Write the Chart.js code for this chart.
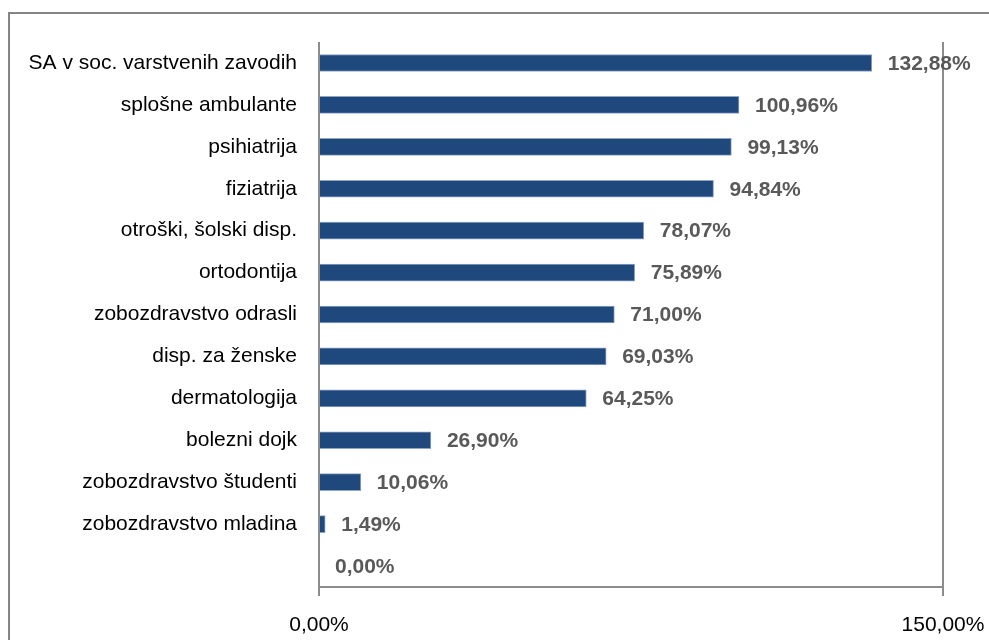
<!DOCTYPE html>
<html lang="sl">
<head>
    <meta charset="UTF-8">
    <title>Realizacija programa</title>
    <script src="https://cdn.jsdelivr.net/npm/chart.js"></script>
    <style>
        body { margin: 0; background: white; }
        #wrap { width: 989px; height: 640px; }
    </style>
</head>
<body>
    <div id="wrap"><canvas id="chart" width="989" height="640"></canvas></div>

    <script>
        // data
        let categories = [
            "SA v soc. varstvenih zavodih",
            "splošne ambulante",
            "psihiatrija",
            "fiziatrija",
            "otroški, šolski disp.",
            "ortodontija",
            "zobozdravstvo odrasli",
            "disp. za ženske",
            "dermatologija",
            "bolezni dojk",
            "zobozdravstvo študenti",
            "zobozdravstvo mladina",
            ""
        ];
        let values = [132.88, 100.96, 99.13, 94.84, 78.07, 75.89, 71.00, 69.03, 64.25, 26.90, 10.06, 1.49, 0.00];
        let axisMin = 0;
        let axisMax = 150;

        function pct(v) {
            return v.toFixed(2).replace('.', ',') + '%';
        }

        // gray frame round the chart
        let framePlugin = {
            id: 'frame',
            beforeDraw(chart) {
                let c = chart.ctx;
                c.save();
                c.strokeStyle = '#858585';
                c.lineWidth = 2;
                c.strokeRect(9, 13, 1100, 700);
                c.restore();
            }
        };

        // value labels next to bars
        let valueLabels = {
            id: 'valueLabels',
            afterDatasetsDraw(chart) {
                let c = chart.ctx;
                let meta = chart.getDatasetMeta(0);
                c.save();
                c.font = 'bold 21px "Liberation Sans", Arial, sans-serif';
                c.fillStyle = '#595959';
                c.textAlign = 'left';
                c.textBaseline = 'middle';
                meta.data.forEach((bar, i) => {
                    c.fillText(pct(values[i]), bar.x + 16, bar.y + 1);
                });
                c.restore();
            }
        };

        let ctx = document.getElementById("chart").getContext("2d");
        let chart = new Chart(ctx, {
            type: "bar",
            data: {
                labels: categories,
                datasets: [{
                    data: values,
                    backgroundColor: "#1f497d",
                    borderColor: "#8fa3c4",
                    borderWidth: 1,
                    barThickness: 17
                }]
            },
            options: {
                indexAxis: 'y',
                responsive: false,
                animation: false,
                layout: { padding: { top: 42, right: 46, left: 0, bottom: 0 } },
                plugins: {
                    legend: { display: false },
                    tooltip: { enabled: false }
                },
                scales: {
                    x: {
                        min: axisMin,
                        max: axisMax,
                        afterFit(scale) {
                            scale.height = 53;
                            scale.paddingLeft = 0;
                            scale.paddingRight = 0;
                        },
                        ticks: {
                            stepSize: 150,
                            padding: 17,
                            color: '#000',
                            font: { family: '"Liberation Sans", Arial, sans-serif', size: 21 },
                            callback: v => pct(v)
                        },
                        grid: { color: '#8c8c8c', lineWidth: 2, tickLength: 9 },
                        border: { display: true, color: '#8c8c8c', width: 2 }
                    },
                    y: {
                        afterFit(scale) { scale.width = 319; },
                        grid: { display: false, drawTicks: false },
                        border: { display: false },
                        ticks: {
                            padding: 22,
                            color: '#000',
                            font: { family: '"Liberation Sans", Arial, sans-serif', size: 21 }
                        }
                    }
                }
            },
            plugins: [framePlugin, valueLabels]
        });
    </script>
</body>
</html>
